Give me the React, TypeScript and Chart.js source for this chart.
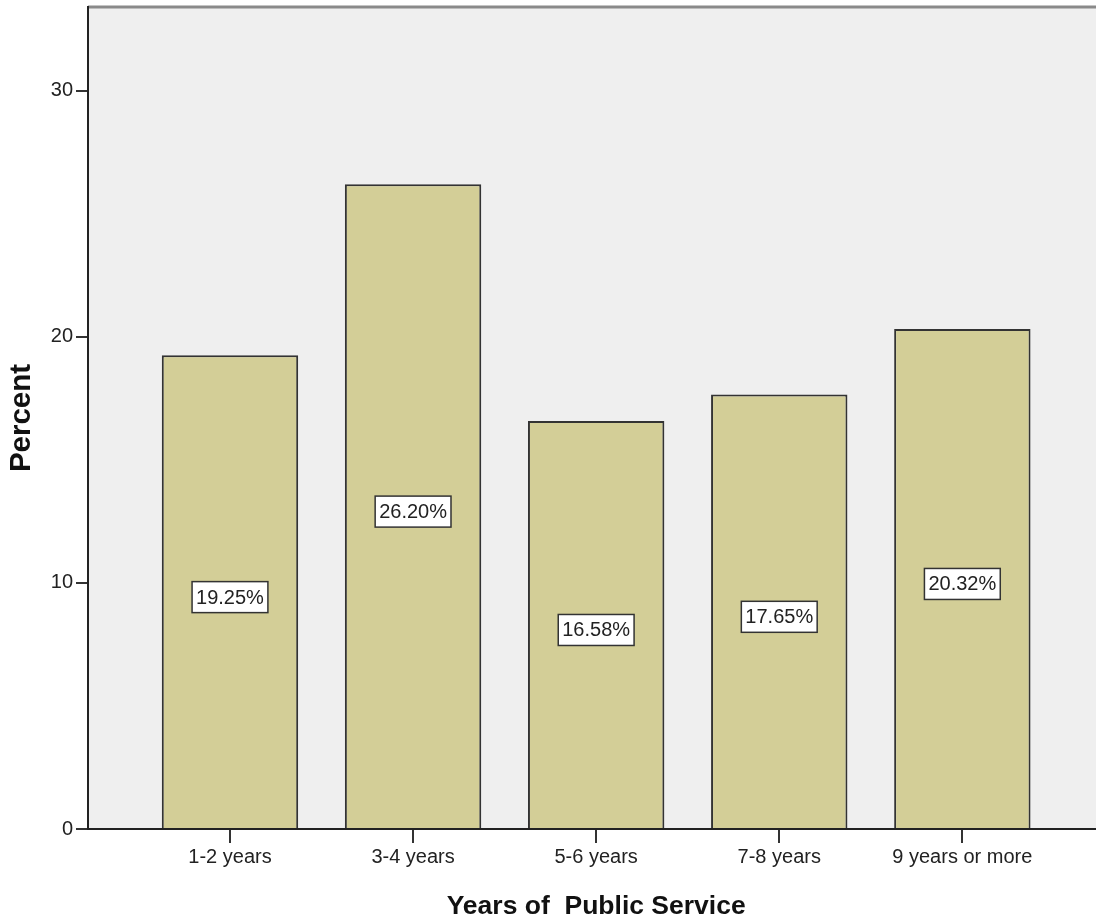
import React, { useEffect, useRef } from "react";
import { Chart, registerables } from "chart.js";

Chart.register(...registerables);

// Share of respondents by years of public service
const categories: string[] = ["1-2 years", "3-4 years", "5-6 years", "7-8 years", "9 years or more"];
const percents: number[] = [19.25, 26.2, 16.58, 17.65, 20.32];
const yTickValues: number[] = [0, 10, 20, 30];

const xTitle = "Years of  Public Service";
const yTitle = "Percent";

const FONT = '"Liberation Sans", Arial, sans-serif';
const BAR_FILL = "#d3ce97";
const BAR_EDGE = "#333333";
const PLOT_BG = "#efefef";
const INK = "#222222";

// Plot backdrop and the grey rule along its top edge
const plotBackground = {
  id: "plotBackground",
  beforeDraw(chart: any) {
    const { ctx, chartArea } = chart;
    ctx.save();
    ctx.fillStyle = PLOT_BG;
    ctx.fillRect(chartArea.left, chartArea.top, chartArea.right - chartArea.left, chartArea.bottom - chartArea.top);
    ctx.strokeStyle = "#8a8a8a";
    ctx.lineWidth = 3;
    ctx.beginPath();
    ctx.moveTo(chartArea.left, chartArea.top);
    ctx.lineTo(chartArea.right, chartArea.top);
    ctx.stroke();
    ctx.restore();
  },
};

// Boxed percentage labels placed half-way up each bar
const barLabels = {
  id: "barLabels",
  afterDatasetsDraw(chart: any) {
    const { ctx } = chart;
    const yScale = chart.scales.y;
    const meta = chart.getDatasetMeta(0);
    ctx.save();
    ctx.font = `20px ${FONT}`;
    ctx.textAlign = "center";
    ctx.textBaseline = "middle";
    meta.data.forEach((bar: any, i: number) => {
      const v = percents[i];
      const text = `${v.toFixed(2)}%`;
      const cx = bar.x;
      const cy = yScale.getPixelForValue(v / 2) + 5;
      const w = ctx.measureText(text).width + 8;
      const h = 31;
      ctx.fillStyle = "#ffffff";
      ctx.fillRect(cx - w / 2, cy - h / 2, w, h);
      ctx.strokeStyle = "#333333";
      ctx.lineWidth = 1.5;
      ctx.strokeRect(cx - w / 2, cy - h / 2, w, h);
      ctx.fillStyle = INK;
      ctx.fillText(text, cx, cy + 1);
    });
    ctx.restore();
  },
};

// Axis titles
const axisTitles = {
  id: "axisTitles",
  afterDraw(chart: any) {
    const { ctx, chartArea } = chart;
    const xScale = chart.scales.x;
    ctx.save();
    ctx.fillStyle = "#111111";
    ctx.textAlign = "center";

    ctx.font = `bold 26.5px ${FONT}`;
    const xc = (xScale.getPixelForValue(1) + xScale.getPixelForValue(categories.length)) / 2;
    ctx.textBaseline = "alphabetic";
    ctx.fillText(xTitle, xc, chart.height - 3);

    ctx.font = `bold 29.5px ${FONT}`;
    ctx.translate(22, (chartArea.top + chartArea.bottom) / 2);
    ctx.rotate(-Math.PI / 2);
    ctx.textBaseline = "middle";
    ctx.fillText(yTitle, 0, 0);
    ctx.restore();
  },
};

export default function App() {
  const canvasRef = useRef<HTMLCanvasElement | null>(null);

  useEffect(() => {
    const canvas = canvasRef.current;
    if (!canvas) return;
    const chart = new Chart(canvas, {
      type: "bar",
      data: {
        datasets: [
          {
            data: categories.map((_, i) => ({ x: i + 1, y: percents[i] })),
            backgroundColor: BAR_FILL,
            borderColor: BAR_EDGE,
            borderWidth: 2,
            borderSkipped: "bottom",
            barPercentage: 0.745,
            categoryPercentage: 1,
          },
        ],
      },
      options: {
        responsive: false,
        animation: false,
        layout: { padding: { top: 7, left: 0, right: 0, bottom: 0 } },
        plugins: {
          legend: { display: false },
          tooltip: { enabled: false },
          title: { display: false },
        },
        scales: {
          x: {
            type: "linear",
            offset: false,
            min: 0.2245,
            max: 5.73,
            afterBuildTicks: (scale: any) => {
              scale.ticks = categories.map((_, i) => ({ value: i + 1 }));
            },
            afterFit: (scale: any) => {
              scale.height = 88;
              scale.paddingLeft = 0;
              scale.paddingRight = 0;
            },
            ticks: {
              autoSkip: false,
              maxRotation: 0,
              padding: 2,
              color: INK,
              font: { family: FONT, size: 20 },
              callback: (v: any) => categories[Number(v) - 1] ?? "",
            },
            grid: {
              offset: false,
              drawOnChartArea: false,
              drawTicks: true,
              tickLength: 14,
              color: "#333333",
              lineWidth: 2,
            },
            border: { display: true, color: "#222222", width: 2 },
          },
          y: {
            min: 0,
            max: 33.4,
            afterBuildTicks: (scale: any) => {
              scale.ticks = yTickValues.map((v) => ({ value: v }));
            },
            afterFit: (scale: any) => {
              scale.width = 88;
              scale.paddingTop = 0;
              scale.paddingBottom = 0;
            },
            ticks: {
              padding: 3,
              color: INK,
              font: { family: FONT, size: 20 },
            },
            grid: {
              drawOnChartArea: false,
              drawTicks: true,
              tickLength: 12,
              color: "#333333",
              lineWidth: 2,
            },
            border: { display: true, color: "#222222", width: 2 },
          },
        },
      },
      plugins: [plotBackground, barLabels, axisTitles],
    });
    return () => chart.destroy();
  }, []);

  return (
    <div style={{ position: "absolute", left: 0, top: 0, width: 1096, height: 917, background: "#ffffff" }}>
      <canvas ref={canvasRef} width={1096} height={917} style={{ display: "block" }} />
    </div>
  );
}
